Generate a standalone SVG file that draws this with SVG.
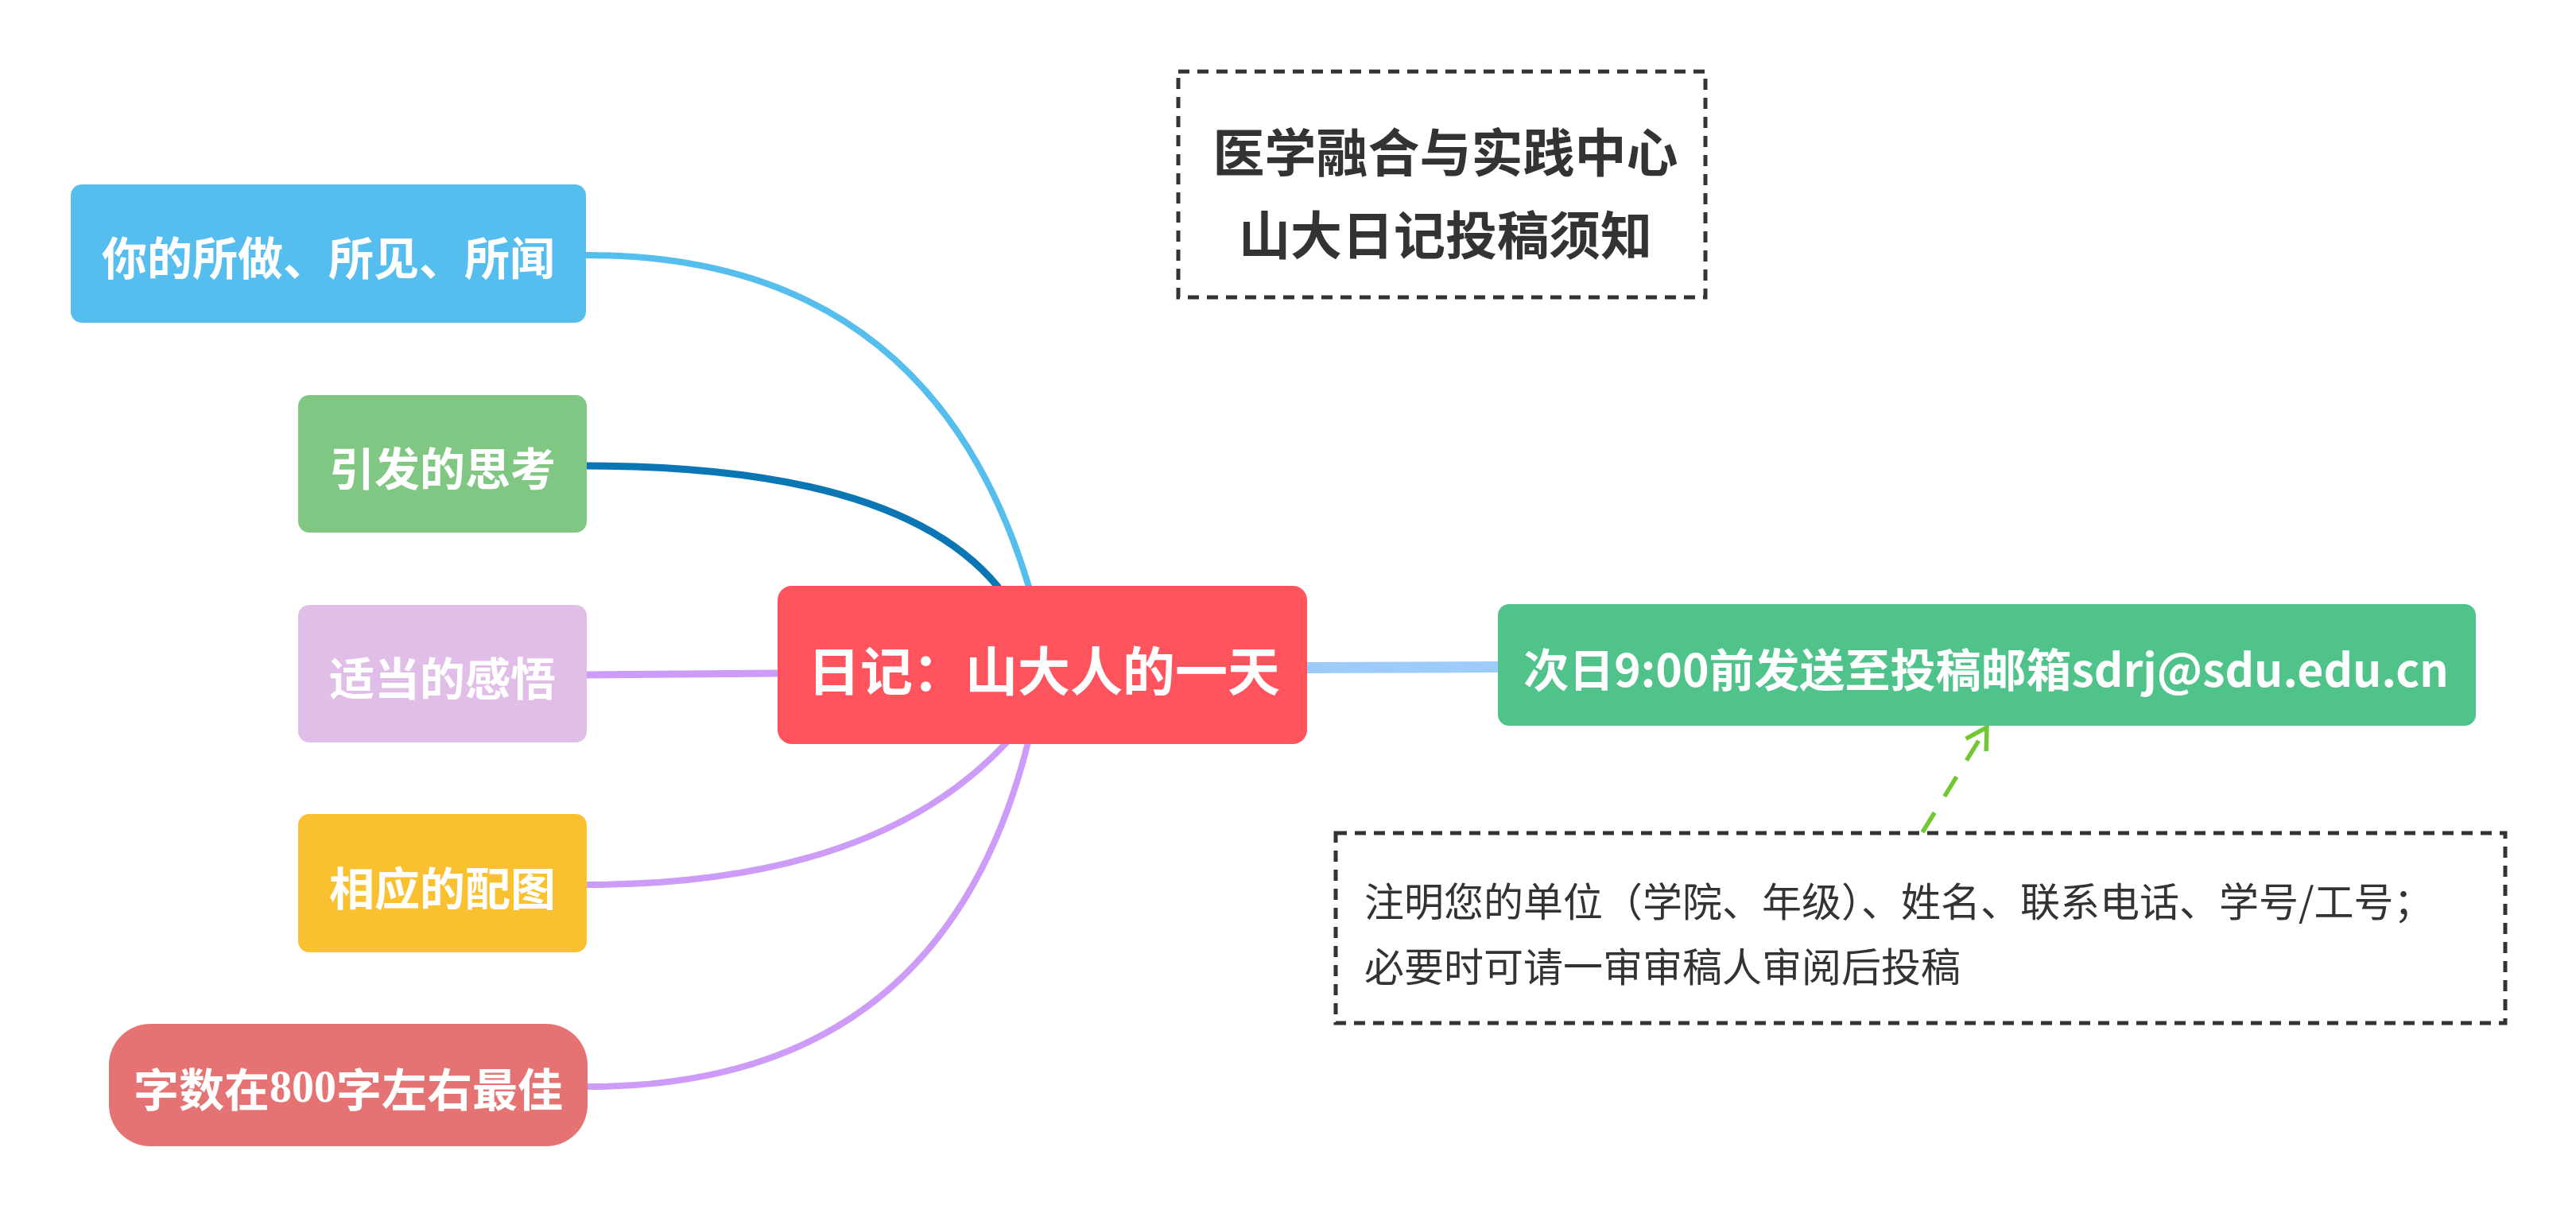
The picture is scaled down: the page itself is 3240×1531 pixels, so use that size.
<svg xmlns="http://www.w3.org/2000/svg" width="3240" height="1531" viewBox="0 0 3240 1531">
  <style>
    .node-text { font-family: "Noto Sans CJK SC", "Noto Sans", sans-serif; font-weight: 700; fill: #FFFFFF; text-anchor: middle; dominant-baseline: central; }
    .title-text { font-family: "Noto Sans CJK SC", "Noto Sans", sans-serif; font-weight: 700; fill: #333333; text-anchor: middle; dominant-baseline: central; font-size: 65px; }
    .note-text { font-family: "Noto Sans CJK SC", "Noto Sans", sans-serif; font-weight: 400; fill: #333333; dominant-baseline: central; font-size: 50px; }
    .dashbox { fill: #FFFFFF; stroke: #333333; stroke-width: 5; stroke-dasharray: 14 10; }
    .branch { fill: none; stroke-linecap: round; }
  </style>
  <defs>
    <marker id="arrow" markerUnits="userSpaceOnUse" viewBox="-34 -22 40 44" refX="0" refY="0" markerWidth="40" markerHeight="44" orient="auto">
      <path d="M -26 -15 L 0 0 L -26 15" fill="none" stroke="#72C833" stroke-width="5.5"/>
    </marker>
  </defs>
  <rect width="3240" height="1531" fill="#FFFFFF"/>

  <g id="connectors">
    <path class="branch" d="M 738 321 Q 1169 321 1294 738" stroke="#56BEEC" stroke-width="8"/>
    <path class="branch" d="M 738 586 Q 1130 586 1255 738" stroke="#0B76B4" stroke-width="9"/>
    <path class="branch" d="M 738 849 L 980 847" stroke="#CC9CF8" stroke-width="9"/>
    <path class="branch" d="M 738 1113 Q 1100 1113 1266 934" stroke="#CC9CF8" stroke-width="8"/>
    <path class="branch" d="M 740 1367 Q 1185 1367 1293 934" stroke="#CC9CF8" stroke-width="8"/>
    <path class="branch" d="M 1640 840 L 1886 839" stroke="#9DCBFA" stroke-width="14" stroke-linecap="butt"/>
    <path d="M 2418 1047 L 2499 915" fill="none" stroke="#72C833" stroke-width="5.5" stroke-dasharray="29 24" marker-end="url(#arrow)"/>
  </g>

  <g id="node-center">
    <rect x="978" y="737" width="666" height="199" rx="18" fill="#FF535D"/>
    <text class="node-text" x="1313" y="840" font-size="66">日记：山大人的一天</text>
  </g>

  <g id="node-seen">
    <rect x="89" y="232" width="648" height="174" rx="14" fill="#56BEEE"/>
    <text class="node-text" x="413" y="321" font-size="57">你的所做、所见、所闻</text>
  </g>

  <g id="node-thinking">
    <rect x="375" y="497" width="363" height="173" rx="14" fill="#81C784"/>
    <text class="node-text" x="556.5" y="586" font-size="57">引发的思考</text>
  </g>

  <g id="node-feeling">
    <rect x="375" y="761" width="363" height="173" rx="14" fill="#E1BEE7"/>
    <text class="node-text" x="556.5" y="850" font-size="57">适当的感悟</text>
  </g>

  <g id="node-picture">
    <rect x="375" y="1024" width="363" height="174" rx="14" fill="#F9C02F"/>
    <text class="node-text" x="556.5" y="1114" font-size="57">相应的配图</text>
  </g>

  <g id="node-words">
    <rect x="137" y="1288" width="602" height="154" rx="52" fill="#E57373"/>
    <text class="node-text" x="438" y="1367" font-size="57">字数在<tspan font-family="'Liberation Serif', serif" font-size="56">800</tspan>字左右最佳</text>
  </g>

  <g id="node-email">
    <rect x="1884" y="760" width="1230" height="153" rx="14" fill="#50C38B"/>
    <text class="node-text" x="2498" y="839" font-size="57">次日9:00前发送至投稿邮箱sdrj@sdu.edu.cn</text>
  </g>

  <g id="node-title">
    <rect class="dashbox" x="1482" y="90" width="663" height="284"/>
    <text class="title-text" x="1818" y="188">医学融合与实践中心</text>
    <text class="title-text" x="1818" y="292">山大日记投稿须知</text>
  </g>

  <g id="node-note">
    <rect class="dashbox" x="1680" y="1048" width="1471" height="239"/>
    <text class="note-text" x="1716" y="1131">注明您的单位（学院、年级）、姓名、联系电话、学号/工号；</text>
    <text class="note-text" x="1716" y="1213">必要时可请一审审稿人审阅后投稿</text>
  </g>
</svg>
